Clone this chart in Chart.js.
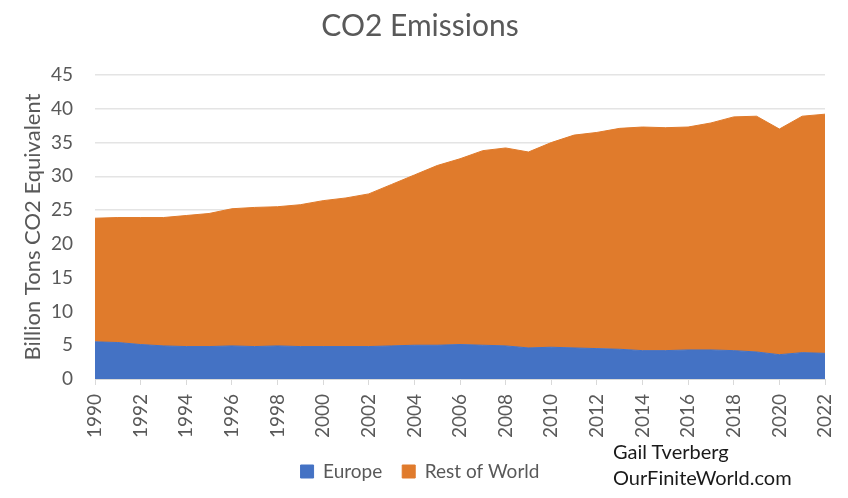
<!DOCTYPE html>
<html><head><meta charset="utf-8">
<style>
html,body{margin:0;padding:0;background:#fff;width:848px;height:498px;overflow:hidden}
#w{position:relative;width:848px;height:498px}
canvas{position:absolute;left:0;top:0;filter:blur(0.5px)}
#note{position:absolute;left:613px;top:438px;width:230px;font:20px/26px Lato,sans-serif;color:#1a1a1a;filter:blur(0.4px)}
</style>
<script src="https://cdn.jsdelivr.net/npm/chart.js@4"></script>
</head><body><div id="w"><canvas id="c" width="848" height="498"></canvas>
<div id="note"><div>Gail Tverberg</div><div>OurFiniteWorld.com</div></div></div>
<script>
const years=[1990,1991,1992,1993,1994,1995,1996,1997,1998,1999,2000,2001,2002,2003,2004,2005,2006,2007,2008,2009,2010,2011,2012,2013,2014,2015,2016,2017,2018,2019,2020,2021,2022];
const europe=[5.5,5.4,5.1,4.9,4.8,4.8,4.9,4.8,4.9,4.8,4.8,4.8,4.8,4.9,5.0,5.0,5.1,5.0,4.9,4.6,4.7,4.6,4.5,4.4,4.2,4.2,4.3,4.3,4.2,4.0,3.6,3.9,3.8];
const restOfWorld=[18.3,18.5,18.8,19.0,19.4,19.7,20.3,20.6,20.6,21.0,21.6,22.0,22.6,23.9,25.2,26.6,27.5,28.8,29.3,29.0,30.3,31.5,32.0,32.7,33.1,33.0,33.0,33.6,34.6,34.9,33.4,35.0,35.4];
const gray='#595959';
new Chart(document.getElementById('c'),{
 type:'line',
 data:{labels:years,datasets:[
  {label:'Europe',data:europe,backgroundColor:'#4472c4',borderColor:'#4472c4',borderWidth:1,fill:'origin',pointRadius:0,tension:0},
  {label:'Rest of World',data:restOfWorld,backgroundColor:'#e07b2c',borderColor:'#e07b2c',borderWidth:1,fill:'-1',pointRadius:0,tension:0}
 ]},
 options:{responsive:false,animation:false,
  layout:{padding:{left:6,right:14,top:8,bottom:7}},
  plugins:{
   title:{display:true,text:'CO2 Emissions',color:gray,font:{family:'Lato',size:30,weight:'normal'},padding:{top:0,bottom:31}},
   legend:{position:'bottom',labels:{color:gray,font:{family:'Lato',size:19},boxWidth:13,boxHeight:13,padding:20}},
   tooltip:{enabled:false}
  },
  scales:{
   x:{offset:false,
      afterBuildTicks:s=>{s.ticks=s.ticks.filter(t=>years[t.value]%2===0);},
      afterFit:s=>{s.height=63;s.paddingRight=23;s.paddingLeft=0;},
      ticks:{autoSkip:false,minRotation:90,maxRotation:90,color:gray,font:{family:'Lato',size:19},padding:9},
      grid:{drawOnChartArea:false,drawTicks:true,tickLength:6,color:'#d9d9d9'},
      border:{color:'#d9d9d9'}},
   y:{stacked:true,min:0,max:45,
      afterFit:s=>{s.width=89;},
      ticks:{stepSize:5,color:gray,font:{family:'Lato',size:19},padding:22},
      grid:{color:'#e4e4e4',lineWidth:1.5,drawTicks:false},
      border:{display:false},
      title:{display:true,text:'Billion Tons CO2 Equivalent',color:gray,font:{family:'Lato',size:22},padding:{top:14,bottom:6}}}
  }
 }
});
</script></body></html>
